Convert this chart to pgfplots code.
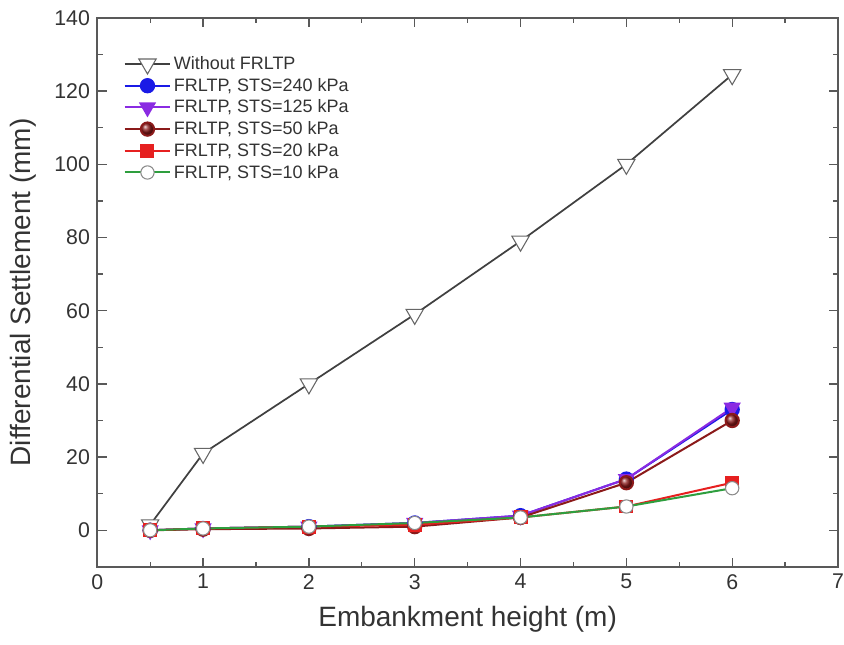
\documentclass[border=0pt]{standalone}
\usepackage{pgfplots}
\pgfplotsset{compat=1.18}
\usepackage{fontspec}
\setmainfont{Liberation Sans}
\definecolor{c240}{HTML}{1A1AE6}
\definecolor{c125}{HTML}{8A2BE2}
\definecolor{c50}{HTML}{8B1A1A}
\definecolor{c20}{HTML}{E62020}
\definecolor{c10}{HTML}{2E9E3E}
\begin{document}
\begin{tikzpicture}
\begin{axis}[width=556pt,height=412pt,scale only axis,
at={(0,0)},anchor=south west,
xmin=0,xmax=7,ymin=-10,ymax=140,
xtick={0,1,...,7},ytick={0,20,...,140},
minor x tick num=1,minor y tick num=1,
tick align=inside,
major tick length=7pt,minor tick length=4pt,
axis line style={black!65,line width=1.2pt},
every tick/.style={black!65,line width=1pt},
tick label style={font=\fontsize{16}{18}\selectfont,text=black!80},
yticklabel style={xshift=-2pt},
xticklabel style={yshift=-2pt},
/pgf/number format/assume math mode=true,
xlabel={Embankment height (m)},
ylabel={Differential Settlement (mm)},
label style={font=\fontsize{21}{24}\selectfont,text=black!80},
xlabel style={at={(axis description cs:0.5,-0.095)},anchor=center},
ylabel style={at={(axis description cs:-0.1,0.5)},anchor=center},
legend style={at={(0.03,0.94)},anchor=north west,draw=none,fill=none,
  font=\fontsize{13.5}{16}\selectfont,text=black!80,row sep=1pt},
legend cell align=left,
legend image code/.code={\draw[mark repeat=2,mark phase=2] plot coordinates {(0cm,0cm) (0.6cm,0cm) (1.2cm,0cm)};},
]
\addplot[black!75,line width=1.3pt,mark=triangle*,mark options={rotate=180,fill=white,draw=black!60,line width=0.8pt},mark size=7.5pt] coordinates {
(0.5,1.5) (1,21) (2,40) (3,59) (4,79) (5,100) (6,124.5)};
\addlegendentry{Without FRLTP}
\addplot[c240,line width=1.5pt,mark=*,mark size=5pt,mark options={fill=c240}] coordinates {
(0.5,0) (1,0.5) (2,1) (3,2) (4,4) (5,14) (6,33)};
\addlegendentry{FRLTP, STS=240 kPa}
\addplot[c125,line width=1.5pt,mark=triangle*,mark options={rotate=180,fill=c125},mark size=6pt] coordinates {
(0.5,0) (1,0.5) (2,1) (3,2) (4,4) (5,14) (6,33.5)};
\addlegendentry{FRLTP, STS=125 kPa}
\addplot[c50,line width=1.5pt,mark=ball,mark size=5pt,mark options={ball color=c50}] coordinates {
(0.5,0) (1,0.3) (2,0.5) (3,1) (4,3.5) (5,13) (6,30)};
\addlegendentry{FRLTP, STS=50 kPa}
\addplot[c20,line width=1.5pt,mark=square*,mark size=4.5pt,mark options={fill=c20}] coordinates {
(0.5,0) (1,0.5) (2,1) (3,1.5) (4,3.5) (5,6.5) (6,13)};
\addlegendentry{FRLTP, STS=20 kPa}
\addplot[c10,line width=1.5pt,mark=*,mark size=5pt,mark options={fill=white,draw=black!45,line width=0.8pt}] coordinates {
(0.5,0) (1,0.5) (2,1) (3,2) (4,3.5) (5,6.5) (6,11.5)};
\addlegendentry{FRLTP, STS=10 kPa}
\end{axis}
\pgfresetboundingbox
\path (-73pt,-58pt) rectangle (560.5pt,425.5pt);
\end{tikzpicture}
\end{document}
